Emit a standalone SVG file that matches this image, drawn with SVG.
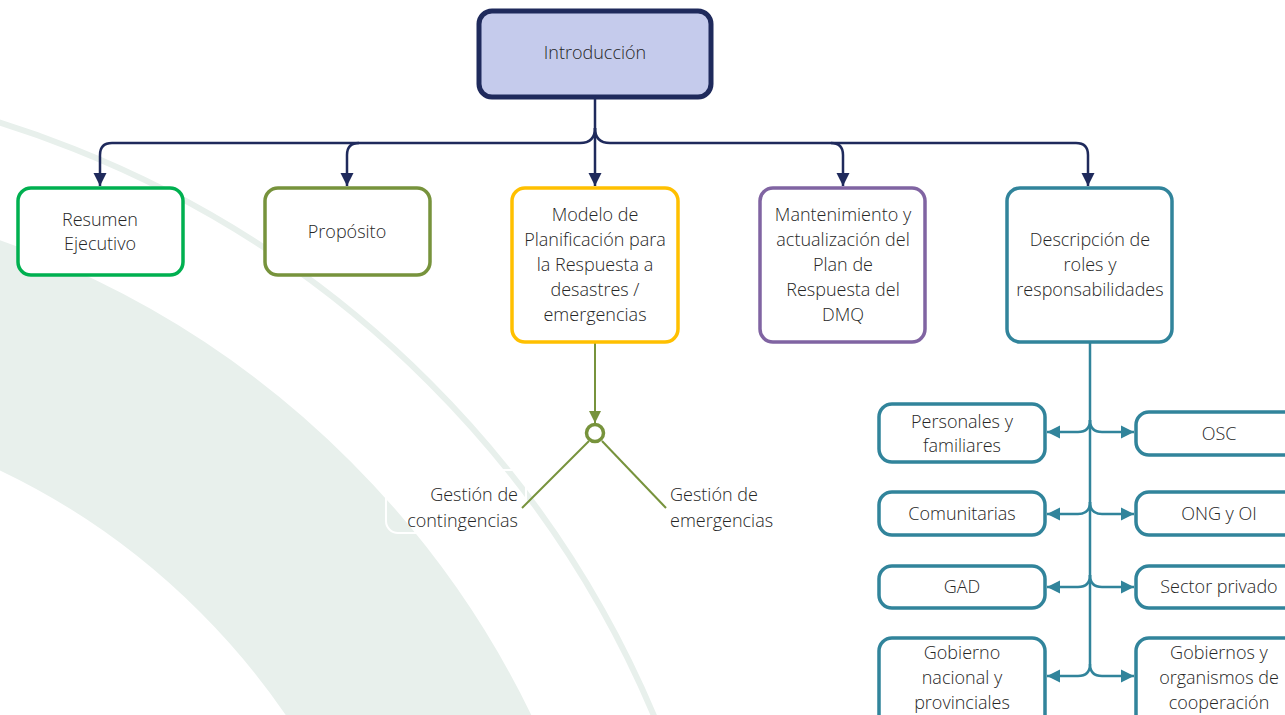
<svg xmlns="http://www.w3.org/2000/svg" width="1285" height="715" viewBox="0 0 1285 715">
<defs>
<style>
.t{font-family:"Open Sans","Liberation Sans",sans-serif;font-weight:300;font-size:18px;fill:#262626;text-anchor:middle}
.box{fill:#fff;stroke-width:3.5}
.nav{fill:none;stroke:#1f2a5c;stroke-width:2.5}
.teal{fill:none;stroke:#31849b;stroke-width:2.5}
.grn{fill:none;stroke:#77933c;stroke-width:2}
.bg{fill:none;stroke:#e8f0ec}
</style>
<marker id="an" markerUnits="userSpaceOnUse" markerWidth="16" markerHeight="16" refX="13" refY="7" orient="auto"><path d="M0,0.5 L13,7 L0,13.5 z" fill="#1f2a5c"/></marker>
<marker id="at" markerUnits="userSpaceOnUse" markerWidth="16" markerHeight="16" refX="13" refY="7" orient="auto"><path d="M0,0.5 L13,7 L0,13.5 z" fill="#31849b"/></marker>
<marker id="ag" markerUnits="userSpaceOnUse" markerWidth="16" markerHeight="16" refX="12" refY="6.5" orient="auto"><path d="M0,0.5 L12,6.5 L0,12.5 z" fill="#77933c"/></marker>
</defs>
<rect width="1285" height="715" fill="#fff"/>
<g id="background">
<circle class="bg" cx="-313" cy="1125" r="832" stroke-width="213"/>
<circle class="bg" cx="-313" cy="1125" r="1050" stroke-width="6"/>
<rect x="386" y="470" width="140" height="63" rx="12" fill="none" stroke="#fff" stroke-width="2"/>
</g>
<g id="connectors">
<path class="nav" d="M595,98 V186" marker-end="url(#an)"/>
<path class="nav" d="M595,128 Q595,143 580,143 H112 Q100,143 100,155 V186" marker-end="url(#an)"/>
<path class="nav" d="M359,143 Q347,143 347,155 V186" marker-end="url(#an)"/>
<path class="nav" d="M595,128 Q595,143 610,143 H1076 Q1088,143 1088,155 V186" marker-end="url(#an)"/>
<path class="nav" d="M831,143 Q843,143 843,155 V186" marker-end="url(#an)"/>
<path class="grn" d="M595,342 V423" marker-end="url(#ag)"/>
<path class="grn" d="M589,441 L522,508"/>
<path class="grn" d="M602,441 L666,508"/>
<path class="teal" d="M1090,342 V664 Q1090,676 1078,676 H1047" marker-end="url(#at)"/>
<path class="teal" d="M1090,664 Q1090,676 1102,676 H1134" marker-end="url(#at)"/>
<path class="teal" d="M1090,420 Q1090,432 1078,432 H1047" marker-end="url(#at)"/>
<path class="teal" d="M1090,420 Q1090,432 1102,432 H1134" marker-end="url(#at)"/>
<path class="teal" d="M1090,502 Q1090,514 1078,514 H1047" marker-end="url(#at)"/>
<path class="teal" d="M1090,502 Q1090,514 1102,514 H1134" marker-end="url(#at)"/>
<path class="teal" d="M1090,575 Q1090,587 1078,587 H1047" marker-end="url(#at)"/>
<path class="teal" d="M1090,575 Q1090,587 1102,587 H1134" marker-end="url(#at)"/>
</g>
<g id="n-junction">
<circle cx="595" cy="433" r="8.5" fill="#fff" stroke="#77933c" stroke-width="3.5"/>
</g>
<g id="n-intro">
<rect x="479" y="11" width="232" height="86" rx="13" fill="#c5cbec" stroke="#1f2a5c" stroke-width="5"/>
<text class="t" x="595" y="59">Introducción</text>
</g>
<g id="n-resumen">
<rect class="box" x="18" y="188" width="165" height="87" rx="13" stroke="#00b050"/>
<text class="t" x="100" y="226">Resumen</text>
<text class="t" x="100" y="250">Ejecutivo</text>
</g>
<g id="n-proposito">
<rect class="box" x="265" y="188" width="165" height="87" rx="13" stroke="#77933c"/>
<text class="t" x="347" y="238">Propósito</text>
</g>
<g id="n-modelo">
<rect class="box" x="512" y="188" width="166" height="154" rx="13" stroke="#ffc000"/>
<text class="t" x="595" y="221">Modelo de</text>
<text class="t" x="595" y="246">Planificación para</text>
<text class="t" x="595" y="271">la Respuesta a</text>
<text class="t" x="595" y="296">desastres /</text>
<text class="t" x="595" y="321">emergencias</text>
</g>
<g id="n-mantenimiento">
<rect class="box" x="760" y="188" width="165" height="154" rx="13" stroke="#8064a2"/>
<text class="t" x="843" y="221">Mantenimiento y</text>
<text class="t" x="843" y="246">actualización del</text>
<text class="t" x="843" y="271">Plan de</text>
<text class="t" x="843" y="296">Respuesta del</text>
<text class="t" x="843" y="321">DMQ</text>
</g>
<g id="n-descripcion">
<rect class="box" x="1007" y="188" width="165" height="154" rx="13" stroke="#31849b"/>
<text class="t" x="1090" y="246">Descripción de</text>
<text class="t" x="1090" y="271">roles y</text>
<text class="t" x="1090" y="296">responsabilidades</text>
</g>
<g id="n-contingencias">
<text class="t" x="518" y="501" style="text-anchor:end">Gestión de</text>
<text class="t" x="518" y="527" style="text-anchor:end">contingencias</text>
</g>
<g id="n-emergencias">
<text class="t" x="670" y="501" style="text-anchor:start">Gestión de</text>
<text class="t" x="670" y="527" style="text-anchor:start">emergencias</text>
</g>
<g id="n-personales">
<rect class="box" x="879" y="404" width="166" height="58" rx="13" stroke="#31849b"/>
<text class="t" x="962" y="428">Personales y</text>
<text class="t" x="962" y="452">familiares</text>
</g>
<g id="n-comunitarias">
<rect class="box" x="879" y="492" width="166" height="43" rx="13" stroke="#31849b"/>
<text class="t" x="962" y="520">Comunitarias</text>
</g>
<g id="n-gad">
<rect class="box" x="879" y="566" width="166" height="42" rx="13" stroke="#31849b"/>
<text class="t" x="962" y="593">GAD</text>
</g>
<g id="n-gobierno">
<rect class="box" x="879" y="638" width="166" height="90" rx="13" stroke="#31849b"/>
<text class="t" x="962" y="659">Gobierno</text>
<text class="t" x="962" y="684">nacional y</text>
<text class="t" x="962" y="709">provinciales</text>
</g>
<g id="n-osc">
<rect class="box" x="1136" y="412" width="166" height="43" rx="13" stroke="#31849b"/>
<text class="t" x="1219" y="440">OSC</text>
</g>
<g id="n-ong">
<rect class="box" x="1136" y="492" width="166" height="43" rx="13" stroke="#31849b"/>
<text class="t" x="1219" y="520">ONG y OI</text>
</g>
<g id="n-privado">
<rect class="box" x="1136" y="566" width="166" height="42" rx="13" stroke="#31849b"/>
<text class="t" x="1219" y="593">Sector privado</text>
</g>
<g id="n-gobiernos">
<rect class="box" x="1136" y="638" width="166" height="90" rx="13" stroke="#31849b"/>
<text class="t" x="1219" y="659">Gobiernos y</text>
<text class="t" x="1219" y="684">organismos de</text>
<text class="t" x="1219" y="709">cooperación</text>
</g>
</svg>
